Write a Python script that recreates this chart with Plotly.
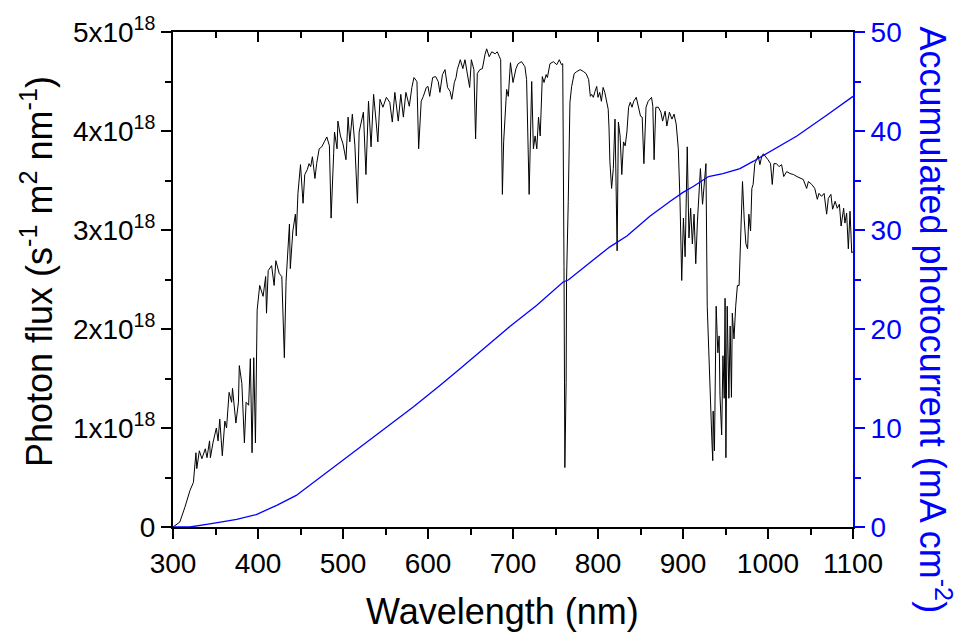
import plotly.graph_objects as go

# Photon flux spectrum (units of 1e18 s^-1 m^-2 nm^-1)
wavelength = [300, 308, 314, 320, 324, 327, 328, 331, 334, 338, 340, 343, 344, 347, 351, 353, 355, 358, 361, 363,
              366, 369, 370, 374, 377, 378, 381, 384, 386, 389, 391, 393, 395, 397, 399, 402, 406, 409, 410, 412,
              416, 419, 421, 425, 428, 431, 433, 436, 437, 438, 441, 444, 445, 447, 450, 453, 455, 458, 460, 462,
              464, 467, 469, 472, 475, 478, 481, 484, 486, 489, 490, 493, 494, 497, 500, 503.5, 506, 508, 511, 514,
              517, 519, 522, 524, 527, 530, 533, 536, 539, 541, 543.5, 547, 551, 555, 558, 561, 565, 568, 571, 574,
              578, 581, 583.5, 587, 589, 592, 594.5, 598, 600, 602, 605.5, 609, 612, 614, 617, 620, 623, 626, 628, 631,
              633, 634.5, 638, 641, 643.5, 646, 649, 651, 654, 656, 658, 661, 664, 667, 669, 672, 675, 679, 681.5, 684,
              685.5, 687.5, 689, 692.5, 694.5, 697, 700, 703.5, 706, 710, 714, 716, 719, 722, 724, 726, 728, 730, 732,
              734.5, 736.5, 739, 740.5, 743.5, 747.5, 751.5, 754.5, 757, 758.5, 760, 761, 762.5, 763, 765, 767, 769,
              772, 775, 779, 783, 786, 789, 791, 792.5, 794.5, 796.5, 798.5, 800, 802, 804, 806, 808, 810, 812, 813,
              814, 816, 818, 820, 821, 822.5, 824, 826, 828, 830, 832, 834, 836, 838, 840, 842, 845, 848, 850, 852,
              854, 856.5, 859, 863, 864.5, 866, 868, 871, 874, 876, 879, 881, 884, 887, 889.5, 892, 894.5, 896.5, 898.5,
              900.5, 902.5, 905, 907, 909, 911, 913, 915, 917, 919, 920.5, 923, 925, 927, 928.5, 931, 934, 935, 935.5,
              937, 939, 941, 942.5, 943.5, 945.5, 947, 948.5, 949.5, 950.5, 952, 954, 955.5, 957, 958, 960, 962, 964,
              966, 968, 970, 972, 974, 976, 977.5, 979.5, 981, 982.5, 984.5, 986.5, 988.5, 990.5, 992.5, 994.5, 997.5,
              1000, 1003, 1005, 1007, 1010, 1013, 1016, 1018.5, 1022, 1026, 1030, 1034, 1038, 1041.5, 1045.5, 1047.5,
              1051.5, 1055, 1058, 1060, 1063, 1066, 1069, 1071, 1074, 1076, 1079, 1081.5, 1084, 1086, 1089, 1090.5,
              1092.5, 1094.5, 1096.5, 1098.5, 1100]
flux_1e18 = [0, 0.05, 0.2, 0.37, 0.45, 0.75, 0.59, 0.77, 0.69, 0.79, 0.70, 0.87, 0.70, 0.85, 1.00, 0.87, 1.09, 0.72, 1.07, 1.00,
             1.36, 1.26, 1.40, 1.05, 1.26, 1.63, 1.45, 0.85, 1.26, 1.23, 1.70, 0.75, 1.71, 0.85, 2.19, 2.44, 2.33, 2.53, 2.16, 2.59,
             2.64, 2.44, 2.69, 2.56, 2.53, 1.71, 2.48, 2.86, 3.06, 2.61, 2.99, 3.16, 2.94, 3.37, 3.66, 3.27, 3.56, 3.61, 3.67, 3.64,
             3.74, 3.52, 3.67, 3.82, 3.84, 3.89, 3.94, 3.85, 3.12, 3.77, 3.99, 3.82, 4.10, 3.95, 3.87, 3.71, 4.14, 3.89, 4.17, 3.85,
             3.27, 3.99, 4.12, 4.19, 3.56, 4.30, 3.84, 4.37, 4.09, 3.89, 4.32, 4.24, 4.34, 4.29, 4.09, 4.39, 4.10, 4.37, 4.14, 4.39,
             4.25, 4.44, 4.54, 4.50, 3.82, 4.30, 4.35, 4.44, 4.45, 4.35, 4.54, 4.55, 4.50, 4.39, 4.57, 4.62, 4.44, 4.40, 4.32, 4.49,
             4.54, 4.62, 4.72, 4.63, 4.72, 4.58, 4.44, 4.72, 4.62, 3.92, 4.58, 4.62, 4.63, 4.77, 4.83, 4.75, 4.80, 4.78, 4.80, 4.75,
             4.72, 3.36, 3.89, 4.42, 4.35, 4.69, 4.49, 4.63, 4.68, 4.70, 4.65, 4.52, 3.36, 4.50, 3.82, 3.95, 3.82, 4.14, 3.95,
             4.55, 4.49, 4.57, 4.54, 4.68, 4.70, 4.67, 4.72, 4.67, 4.68, 2.63, 0.60, 1.46, 2.49, 3.29, 4.29, 4.45,
             4.58, 4.60, 4.62, 4.60, 4.58, 4.52, 4.35, 4.37, 4.34, 4.40, 4.45, 4.34, 4.39, 4.30, 4.44, 4.39, 4.32, 4.22, 4.02,
             3.69, 3.42, 3.62, 4.12, 3.39, 2.79, 4.09, 3.95, 3.56, 3.89, 3.85, 3.99, 4.24, 4.29, 4.24, 4.30, 4.34, 4.22, 4.15, 4.14,
             3.67, 4.24, 4.30, 4.34, 4.25, 3.71, 4.24, 4.24, 4.19, 4.10, 4.20, 4.05, 4.19, 4.12, 4.17, 4.07, 3.82, 3.29, 2.49,
             3.12, 2.73, 3.84, 2.92, 3.22, 2.86, 3.16, 2.66, 3.09, 3.49, 3.62, 3.26, 3.46, 3.67, 2.23, 1.53, 0.87, 0.67, 1.17,
             0.77, 2.23, 1.76, 1.93, 1.33, 0.93, 1.73, 1.30, 2.31, 0.70, 2.23, 1.30, 2.03, 1.31, 2.16, 1.90, 2.23, 2.44,
             2.44, 3.09, 3.49, 3.11, 2.86, 2.81, 3.16, 2.99, 3.42, 3.46, 3.67, 3.71, 3.75, 3.66, 3.74, 3.77, 3.74,
             3.71, 3.67, 3.46, 3.67, 3.67, 3.64, 3.66, 3.54, 3.59, 3.57, 3.56, 3.54, 3.52, 3.51, 3.42, 3.49,
             3.46, 3.42, 3.31, 3.37, 3.34, 3.37, 3.16, 3.32, 3.36, 3.21, 3.29, 3.22, 3.26, 3.04, 3.22, 3.07,
             3.17, 2.81, 3.19, 2.77, 2.78]

# Accumulated photocurrent (mA cm^-2)
wavelength_j = [300, 320, 347, 375, 398, 422, 445, 473, 504, 543, 583, 614, 638, 697, 728, 759, 765, 791, 814,
                834, 861, 885, 900, 912, 930, 947, 967, 983, 998, 1034, 1069, 1100]
current = [0, 0, 0.37, 0.77, 1.26, 2.19, 3.19, 5.0, 7.0, 9.5, 12.15, 14.3, 16.0, 20.3, 22.4, 24.75, 24.95, 26.75, 28.3,
           29.4, 31.4, 32.9, 33.8, 34.4, 35.4, 35.7, 36.2, 36.95, 37.7, 39.5, 41.6, 43.5]

x_ticks = list(range(300, 1101, 100))
y_ticks = [0, 1, 2, 3, 4, 5]
y_ticktext = ["0", "1x10<sup>18</sup>", "2x10<sup>18</sup>", "3x10<sup>18</sup>", "4x10<sup>18</sup>", "5x10<sup>18</sup>"]
j_ticks = [0, 10, 20, 30, 40, 50]

FONT = "Liberation Sans, Arial, sans-serif"
BLUE = "#0000ff"
TICK_SIZE = 28
TITLE_SIZE = 36

fig = go.Figure()
fig.add_trace(go.Scatter(x=wavelength, y=flux_1e18, mode="lines",
                         line=dict(color="black", width=1), xaxis="x", yaxis="y", showlegend=False))
fig.add_trace(go.Scatter(x=wavelength_j, y=current, mode="lines",
                         line=dict(color=BLUE, width=1.3), xaxis="x", yaxis="y2", showlegend=False))
# helper trace to realise the top (mirror) axis
fig.add_trace(go.Scatter(x=[300], y=[None], mode="lines", xaxis="x2", yaxis="y",
                         showlegend=False, hoverinfo="skip"))

fig.update_layout(
    width=963, height=635,
    margin=dict(l=173, r=110, t=25, b=108),
    plot_bgcolor="white", paper_bgcolor="white",
    font=dict(family=FONT, size=TICK_SIZE, color="black"),
    xaxis=dict(range=[300, 1100], tickvals=x_ticks, ticks="outside", ticklen=10, tickwidth=2,
               tickcolor="black", showline=True, linecolor="black", linewidth=2,
               showgrid=False, zeroline=False,
               minor=dict(dtick=50, tick0=300, ticks="outside", ticklen=6, tickwidth=2, tickcolor="black"),
               tickfont=dict(size=TICK_SIZE, family=FONT)),
    xaxis2=dict(range=[300, 1100], overlaying="x", side="top", tickvals=x_ticks, ticks="inside",
                ticklen=10, tickwidth=2, tickcolor="black", showline=True, linecolor="black", linewidth=2,
                showgrid=False, zeroline=False, showticklabels=False,
                minor=dict(dtick=50, tick0=300, ticks="inside", ticklen=6, tickwidth=2, tickcolor="black")),
    yaxis=dict(range=[0, 5], tickvals=y_ticks, ticktext=y_ticktext, ticks="outside", ticklen=10, tickwidth=2,
               tickcolor="black", showline=True, linecolor="black", linewidth=2,
               showgrid=False, zeroline=False,
               minor=dict(dtick=0.5, tick0=0, ticks="outside", ticklen=6, tickwidth=2, tickcolor="black"),
               tickfont=dict(size=TICK_SIZE, family=FONT)),
    yaxis2=dict(range=[0, 50], overlaying="y", side="right", tickvals=j_ticks, ticks="outside", ticklen=10,
                tickwidth=2, tickcolor=BLUE, showline=True, linecolor=BLUE, linewidth=2,
                showgrid=False, zeroline=False,
                minor=dict(dtick=5, tick0=0, ticks="outside", ticklen=6, tickwidth=2, tickcolor=BLUE),
                tickfont=dict(size=TICK_SIZE, family=FONT, color=BLUE)),
    annotations=[
        dict(text="Wavelength (nm)", xref="paper", yref="paper", x=0.485, y=-0.17,
             xanchor="center", yanchor="middle", showarrow=False, font=dict(size=TITLE_SIZE, family=FONT)),
        dict(text="Photon flux (s<sup>-1</sup> m<sup>2</sup> nm<sup>-1</sup>)", xref="paper", yref="paper",
             x=-0.2, y=0.515, xanchor="center", yanchor="middle", textangle=-90, showarrow=False,
             font=dict(size=TITLE_SIZE, family=FONT)),
        dict(text="Accumulated photocurrent (mA cm<sup>-2</sup>)", xref="paper", yref="paper",
             x=1.12, y=0.418, xanchor="center", yanchor="middle", textangle=90, showarrow=False,
             font=dict(size=TITLE_SIZE, family=FONT, color=BLUE)),
    ],
)

fig.write_html("out.html")
